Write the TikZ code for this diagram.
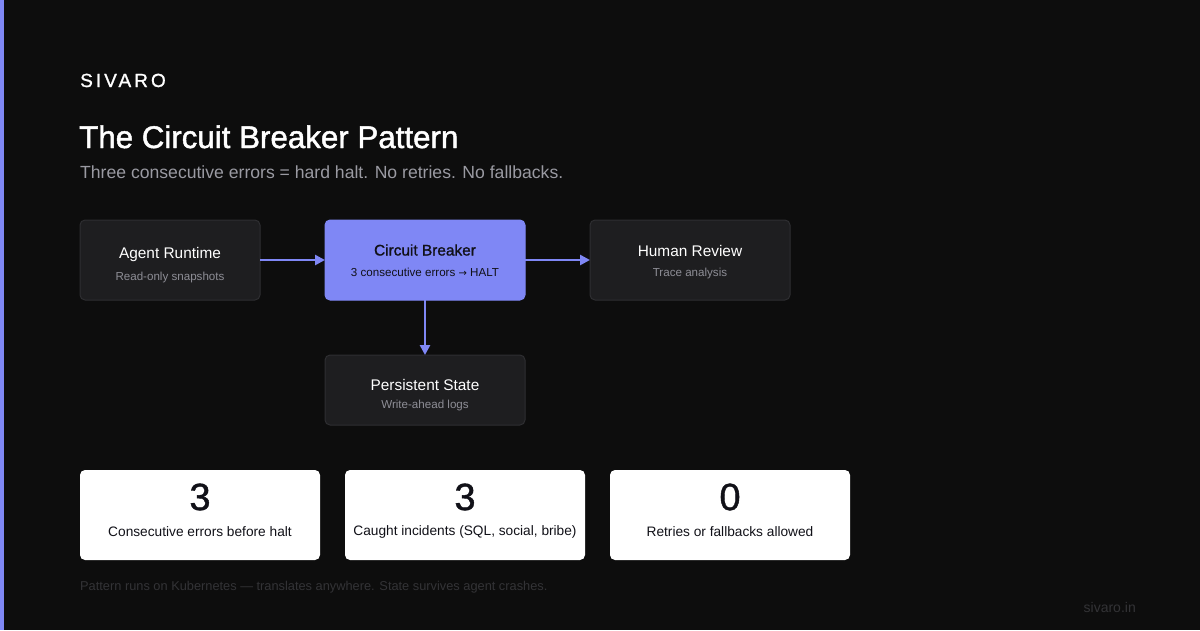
\documentclass[tikz,border=0pt]{standalone}
\usepackage{fontspec}
\setmainfont{Liberation Sans}
\usetikzlibrary{arrows.meta}
\definecolor{bg}{HTML}{0D0D0D}
\definecolor{accent}{HTML}{7F87F5}
\definecolor{boxfill}{HTML}{1E1E20}
\definecolor{boxline}{HTML}{2E2E31}
\definecolor{subgray}{HTML}{9A9AA2}
\definecolor{boxsub}{HTML}{8E8E96}
\definecolor{foot}{HTML}{333336}
\definecolor{darktext}{HTML}{111118}
\tikzset{
  x=1pt,y=-1pt,
  flowbox/.style={draw=boxline,line width=1pt,fill=boxfill,rounded corners=5pt},
  accentbox/.style={draw=accent,line width=1pt,fill=accent,rounded corners=5pt},
  card/.style={fill=white,rounded corners=5pt},
  btitle/.style={font=\fontsize{15.4}{18}\selectfont,text=white},
  bsub/.style={font=\fontsize{11.6}{13}\selectfont,text=boxsub},
  conn/.style={draw=accent,line width=2.5pt,-{Triangle[length=10pt,width=10pt]}},
  num/.style={font=\fontsize{38}{42}\selectfont\addfontfeatures{FakeBold=1},text=darktext},
  clabel/.style={font=\fontsize{13.7}{16}\selectfont,text=darktext},
}
\begin{document}
\begin{tikzpicture}
\useasboundingbox (0,0) rectangle (1200,630);
\fill[bg] (0,0) rectangle (1200,630);
\fill[accent] (0,0) rectangle (4,630);
% header
\node[anchor=base west,inner sep=0,text=white,font=\fontsize{19}{22}\selectfont\addfontfeatures{LetterSpace=16,FakeBold=1.2}] (brand) at (80,87) {SIVARO};
\node[anchor=base west,inner sep=0,text=white,font=\fontsize{31.3}{36}\selectfont\addfontfeatures{FakeBold=1.5}] (title) at (79,148) {The Circuit Breaker Pattern};
\node[anchor=base west,inner sep=0,text=subgray,font=\fontsize{17.6}{20}\selectfont] (subtitle) at (80,178) {Three consecutive errors = hard halt. No retries. No fallbacks.};
% flow boxes
\draw[flowbox] (80,220) rectangle (260,300);
\node[btitle] (art) at (170,255) {Agent Runtime};
\node[bsub] (ars) at (170,277) {Read-only snapshots};
\draw[accentbox] (325,220) rectangle (525,300);
\node[btitle,text=darktext,font=\fontsize{15.4}{18}\selectfont\addfontfeatures{FakeBold=1.2}] (cbt) at (425,250) {Circuit Breaker};
\node[bsub,text=darktext] (cbs) at (425,272) {3 consecutive errors {\fontspec{DejaVu Sans}\fontsize{10}{11}\selectfont →} HALT};
\draw[flowbox] (590,220) rectangle (790,300);
\node[btitle] (hrt) at (690,251) {Human Review};
\node[bsub] (hrs) at (690,273) {Trace analysis};
\draw[flowbox] (325,355) rectangle (525,425);
\node[btitle] (pst) at (425,385) {Persistent State};
\node[bsub] (pss) at (425,405) {Write-ahead logs};
% box edge anchors
\coordinate (arE) at (260,260);
\coordinate (cbW) at (325,260);
\coordinate (cbE) at (525,260);
\coordinate (hrW) at (590,260);
\coordinate (cbS) at (425,300);
\coordinate (psN) at (425,355);
\draw[conn] (arE) -- (cbW);
\draw[conn] (cbE) -- (hrW);
\draw[conn] (cbS) -- (psN);
% cards
\fill[card] (80,470) rectangle (320,560);
\node[num] (n1) at (200,497) {3};
\node[clabel] (l1) at (200,532) {Consecutive errors before halt};
\fill[card] (345,470) rectangle (585,560);
\node[num] (n2) at (465,497) {3};
\node[clabel] (l2) at (465,532) {Caught incidents (SQL, social, bribe)};
\fill[card] (610,470) rectangle (850,560);
\node[num] (n3) at (730,497) {0};
\node[clabel] (l3) at (730,532) {Retries or fallbacks allowed};
% footer
\node[anchor=base west,inner sep=0,text=foot,font=\fontsize{12.8}{14}\selectfont] (footer) at (80,590) {Pattern runs on Kubernetes — translates anywhere. State survives agent crashes.};
\node[anchor=base east,inner sep=0,text=foot,font=\fontsize{14}{15}\selectfont] (url) at (1136,612) {sivaro.in};
\end{tikzpicture}
\end{document}
